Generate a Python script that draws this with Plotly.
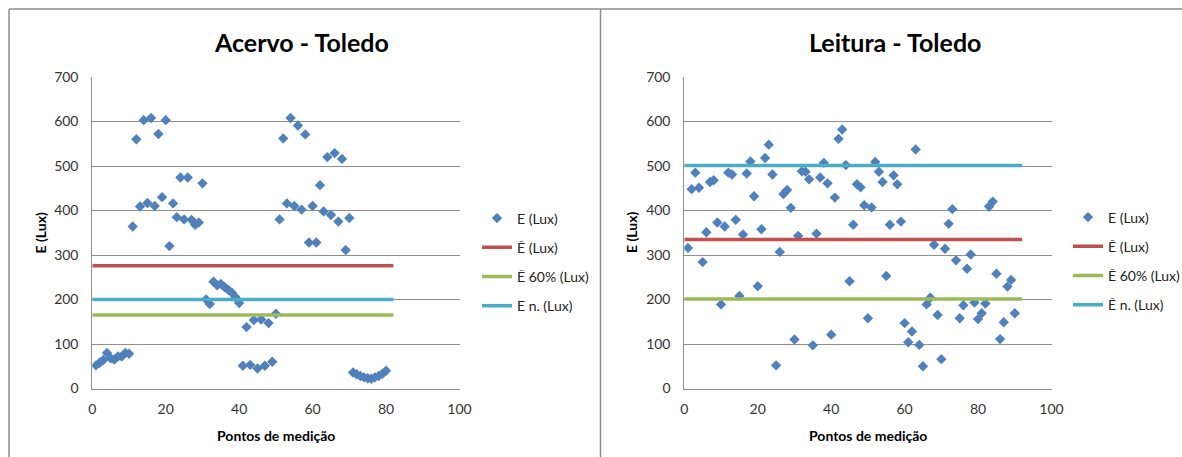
import plotly.graph_objects as go

# ---------------- data ----------------
acervo_points = list(range(1, 81))
acervo_E = [52, 58, 64, 80, 68, 65, 72, 72, 80, 78,
            364, 560, 409, 603, 417, 608, 410, 572, 430, 603,
            320, 416, 385, 474, 380, 474, 379, 368, 373, 461,
            200, 190, 240, 232, 235, 228, 222, 215, 205, 192,
            51, 138, 53, 154, 45, 155, 51, 147, 60, 168,
            380, 562, 416, 608, 410, 591, 402, 571, 328, 410,
            328, 457, 398, 520, 390, 529, 375, 516, 311, 383,
            36, 32, 28, 25, 23, 22, 25, 28, 33, 40]
acervo_line_x = [0, 82]
acervo_mean = [276, 276]
acervo_mean60 = [165, 165]
acervo_norm = [200, 200]

leitura_points = list(range(1, 91))
leitura_E = [316, 448, 485, 451, 284, 351, 464, 468, 373, 189,
             364, 485, 481, 379, 208, 346, 483, 510, 432, 230,
             358, 518, 548, 481, 52, 307, 437, 446, 406, 110,
             343, 488, 487, 470, 97, 348, 474, 507, 461, 121,
             429, 561, 582, 502, 241, 368, 459, 452, 412, 158,
             407, 509, 487, 464, 253, 368, 479, 459, 375, 147,
             104, 128, 537, 98, 50, 189, 204, 323, 165, 66,
             314, 370, 403, 288, 158, 187, 269, 301, 193, 156,
             169, 191, 409, 420, 258, 111, 149, 229, 244, 169]
leitura_line_x = [0, 92]
leitura_mean = [335, 335]
leitura_mean60 = [201, 201]
leitura_norm = [501, 501]

x_ticks = [0, 20, 40, 60, 80, 100]
y_ticks = [0, 100, 200, 300, 400, 500, 600, 700]

# ---------------- style ----------------
W, H = 1182, 457
FONT = "Lato"
C_PT = "#4F81BD"
C_RED = "#C0504D"
C_GRN = "#9BBB59"
C_CYA = "#4BACC6"
GRID = "#8E8E8E"
AXIS = "#8E8E8E"

def px(x):
    return x / W

def py(y):
    return (H - y) / H

fig = go.Figure()

def add_panel(pts, vals, lx, mean, mean60, norm, xa, ya, leg, last_name):
    fig.add_trace(go.Scatter(x=pts, y=vals, mode="markers", name="E (Lux)",
                             marker=dict(symbol="diamond", size=8, color=C_PT, line=dict(width=0)),
                             xaxis=xa, yaxis=ya, legend=leg, legendgroup=leg + "a"))
    fig.add_trace(go.Scatter(x=lx, y=mean, mode="lines", name="Ē (Lux)",
                             line=dict(color=C_RED, width=3.5),
                             xaxis=xa, yaxis=ya, legend=leg, legendgroup=leg + "b"))
    fig.add_trace(go.Scatter(x=lx, y=mean60, mode="lines", name="Ē 60% (Lux)",
                             line=dict(color=C_GRN, width=3.5),
                             xaxis=xa, yaxis=ya, legend=leg, legendgroup=leg + "c"))
    fig.add_trace(go.Scatter(x=lx, y=norm, mode="lines", name=last_name,
                             line=dict(color=C_CYA, width=3.5),
                             xaxis=xa, yaxis=ya, legend=leg, legendgroup=leg + "d"))

add_panel(acervo_points, acervo_E, acervo_line_x, acervo_mean, acervo_mean60, acervo_norm,
          "x", "y", "legend", "E n. (Lux)")
add_panel(leitura_points, leitura_E, leitura_line_x, leitura_mean, leitura_mean60, leitura_norm,
          "x2", "y2", "legend2", "Ē n. (Lux)")

ydom = [py(388.5), py(77)]
xdom1 = [px(92.3), px(459.5)]
xdom2 = [px(684.3), px(1051.5)]

tickfont = dict(family=FONT, size=14, color="#333333")

def xaxis_cfg(dom, anchor):
    return dict(domain=dom, anchor=anchor, range=[0, 100], tickvals=x_ticks, automargin=False,
                showgrid=False, zeroline=False, showline=True, linecolor=AXIS, linewidth=1,
                ticks="", tickfont=tickfont, ticklabelstandoff=8, fixedrange=True)

def yaxis_cfg(anchor):
    return dict(domain=ydom, anchor=anchor, range=[0, 700], tickvals=y_ticks, automargin=False,
                showgrid=True, gridcolor=GRID, gridwidth=1, zeroline=False,
                showline=True, linecolor=AXIS, linewidth=1,
                ticks="", tickfont=tickfont, ticklabelstandoff=10, fixedrange=True)

legend_common = dict(bgcolor="rgba(0,0,0,0)", borderwidth=0,
                     font=dict(family=FONT, size=14, color="#222222"),
                     traceorder="grouped", tracegroupgap=8,
                     xanchor="left", yanchor="middle", itemclick=False)

fig.update_layout(
    width=W, height=H,
    margin=dict(l=0, r=0, t=0, b=0, autoexpand=False),
    paper_bgcolor="white", plot_bgcolor="white",
    showlegend=True,
    xaxis=xaxis_cfg(xdom1, "y"),
    yaxis=yaxis_cfg("x"),
    xaxis2=xaxis_cfg(xdom2, "y2"),
    yaxis2=yaxis_cfg("x2"),
    legend=dict(x=px(477), y=py(262), **legend_common),
    legend2=dict(x=px(1068), y=py(261), **legend_common),
)

annots = [
    dict(text="<b>Acervo - Toledo</b>", x=px(301), y=py(42), size=25),
    dict(text="<b>Leitura - Toledo</b>", x=px(895), y=py(42), size=25),
    dict(text="<b>Pontos de medição</b>", x=px(276), y=py(435), size=14),
    dict(text="<b>Pontos de medição</b>", x=px(868), y=py(435), size=14),
]
for a in annots:
    fig.add_annotation(text=a["text"], x=a["x"], y=a["y"], xref="paper", yref="paper",
                       xanchor="center", yanchor="middle", showarrow=False,
                       font=dict(family=FONT, size=a["size"], color="#000000"))
for xc in (39.5, 631):
    fig.add_annotation(text="<b>E (Lux)</b>", x=px(xc), y=py(233), xref="paper", yref="paper",
                       xanchor="center", yanchor="middle", showarrow=False, textangle=-90,
                       font=dict(family=FONT, size=14, color="#000000"))

# chart-area borders
border = dict(color="#8C8C8C", width=1.5)
fig.add_shape(type="line", xref="paper", yref="paper", x0=px(9), x1=1, y0=py(9), y1=py(9), line=border)
fig.add_shape(type="line", xref="paper", yref="paper", x0=px(9), x1=px(9), y0=py(9), y1=0, line=border)
fig.add_shape(type="line", xref="paper", yref="paper", x0=px(600.5), x1=px(600.5), y0=py(9), y1=0, line=border)

post = ("document.documentElement.style.margin='0';document.body.style.margin='0';"
        "document.documentElement.style.overflow='hidden';document.body.style.overflow='hidden';")

fig.write_html("out.html", config={"displayModeBar": False}, post_script=post)
